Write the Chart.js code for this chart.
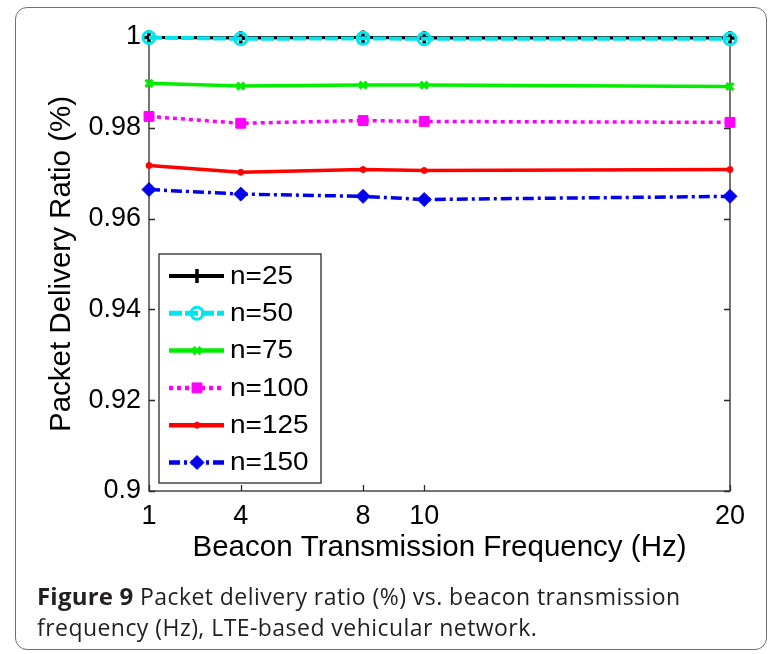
<!DOCTYPE html>
<html>
<head>
<meta charset="utf-8">
<script src="https://cdn.jsdelivr.net/npm/chart.js@4.4.1/dist/chart.umd.min.js"></script>
<style>
  html, body { margin: 0; padding: 0; background: #fff; }
  #wrap { position: relative; width: 770px; height: 654px; overflow: hidden; }
  #frame { position: absolute; left: 15px; top: 7px; width: 752px; height: 643px;
           box-sizing: border-box; border: 1.5px solid #707070; border-radius: 12px; }
  #c { position: absolute; left: 0; top: 0; }
  #caption { position: absolute; left: 37px; top: 580px; font-family: 'Open Sans', sans-serif;
             font-size: 23px; line-height: 31px; color: #231f20; letter-spacing: 0.45px; }
  #caption b { font-weight: 700; font-size: 24px; letter-spacing: 0.2px; }
</style>
</head>
<body>
<div id="wrap">
  <div id="frame"></div>
  <canvas id="c" width="770" height="654"></canvas>
  <div id="caption"><b>Figure 9</b> Packet delivery ratio (%) vs. beacon transmission<br>frequency (Hz), LTE-based vehicular network.</div>
</div>
<script>
// Beacon transmission frequency (Hz)
const frequencies = [1, 4, 8, 10, 20];
const xTicks = [1, 4, 8, 10, 20];
const yTicks = [0.9, 0.92, 0.94, 0.96, 0.98, 1];
const yTickLabels = ['0.9', '0.92', '0.94', '0.96', '0.98', '1'];

// Packet delivery ratio per number of vehicles
const seriesNames = ['n=25', 'n=50', 'n=75', 'n=100', 'n=125', 'n=150'];
const pdrN25  = [0.9999, 0.9998, 0.9999, 0.9998, 0.9998];
const pdrN50  = [0.9999, 0.9996, 0.9997, 0.9996, 0.9996];
const pdrN75  = [0.9898, 0.9892, 0.9894, 0.9894, 0.9891];
const pdrN100 = [0.9825, 0.9810, 0.9816, 0.9814, 0.9812];
const pdrN125 = [0.9717, 0.9702, 0.9708, 0.9706, 0.9708];
const pdrN150 = [0.9664, 0.9654, 0.9649, 0.9642, 0.9649];

const FONT = "'Liberation Sans', Arial, Helvetica, sans-serif";
const AXIS_COLOR = '#2a2a2a';

const styles = [
  { color: '#000000', width: 3,   dash: [],            point: 'cross',   radius: 7, pw: 3.5, fill: false },
  { color: '#00e5ee', width: 4,   dash: [13, 3],       point: 'circle',  radius: 6, pw: 3, fill: false },
  { color: '#00ee00', width: 3.5, dash: [],            point: 'crossRot',radius: 5, pw: 3, fill: false },
  { color: '#ff00ff', width: 3.5, dash: [4, 4],        point: 'rect',    radius: 7, pw: 1, fill: true  },
  { color: '#ff0000', width: 3.5, dash: [],            point: 'circle',  radius: 3, pw: 1, fill: true  },
  { color: '#0000ee', width: 3.5, dash: [11, 4, 3, 4], point: 'rectRot', radius: 7, pw: 1, fill: true  }
];
const seriesValues = [pdrN25, pdrN50, pdrN75, pdrN100, pdrN125, pdrN150];

const datasets = seriesValues.map((vals, i) => {
  const s = styles[i];
  return {
    label: seriesNames[i],
    data: vals.map((v, k) => ({ x: frequencies[k], y: v })),
    borderColor: s.color,
    backgroundColor: s.fill ? s.color : 'rgba(0,0,0,0)',
    borderWidth: s.width,
    borderDash: s.dash,
    pointStyle: s.point,
    pointRadius: s.radius,
    pointBorderWidth: s.pw,
    pointBorderColor: s.color,
    pointBackgroundColor: s.fill ? s.color : 'rgba(0,0,0,0)',
    tension: 0,
    clip: false,
    order: seriesValues.length - i   // later series painted on top
  };
});

function drawMarker(ctx, s, x, y) {
  ctx.save();
  ctx.setLineDash([]);
  ctx.strokeStyle = s.color;
  ctx.fillStyle = s.fill ? s.color : 'rgba(0,0,0,0)';
  ctx.lineWidth = s.pw;
  Chart.helpers.drawPoint(ctx, { pointStyle: s.point, radius: s.radius, borderWidth: s.pw, rotation: 0 }, x, y);
  ctx.restore();
}

// Box around the plot with inward-pointing tick marks
const axesBox = {
  id: 'axesBox',
  beforeDatasetsDraw(chart) {
    const { ctx, chartArea: a, scales: { x, y } } = chart;
    ctx.save();
    ctx.strokeStyle = AXIS_COLOR;
    ctx.lineWidth = 1.3;
    ctx.setLineDash([]);
    ctx.strokeRect(a.left, a.top, a.right - a.left, a.bottom - a.top);
    const len = 6;
    ctx.beginPath();
    yTicks.forEach(v => {
      const py = Math.round(y.getPixelForValue(v)) + 0.5;
      ctx.moveTo(a.left, py); ctx.lineTo(a.left + len, py);
      ctx.moveTo(a.right, py); ctx.lineTo(a.right - len, py);
    });
    xTicks.forEach(v => {
      const px = Math.round(x.getPixelForValue(v)) + 0.5;
      ctx.moveTo(px, a.bottom); ctx.lineTo(px, a.bottom - len);
      ctx.moveTo(px, a.top); ctx.lineTo(px, a.top + len);
    });
    ctx.stroke();
    ctx.restore();
  }
};

// Legend box in the lower-left corner of the plot, with line samples and markers
const lineLegend = {
  id: 'lineLegend',
  afterDatasetsDraw(chart) {
    const { ctx } = chart;
    const bx = 159, by = 254, bw = 162, bh = 229;
    ctx.save();
    ctx.fillStyle = '#fff';
    ctx.fillRect(bx, by, bw, bh);
    ctx.strokeStyle = AXIS_COLOR;
    ctx.lineWidth = 1.3;
    ctx.strokeRect(bx, by, bw, bh);
    seriesNames.forEach((name, i) => {
      const s = styles[i];
      const cy = 276 + i * 37.3;
      ctx.save();
      ctx.strokeStyle = s.color;
      ctx.lineWidth = s.width + 1;
      ctx.setLineDash(s.dash);
      ctx.beginPath();
      ctx.moveTo(169, cy); ctx.lineTo(224, cy);
      ctx.stroke();
      ctx.restore();
      drawMarker(ctx, s, 197, cy);
      ctx.save();
      ctx.fillStyle = '#000';
      ctx.font = '25px ' + FONT;
      ctx.textBaseline = 'middle';
      ctx.translate(230, cy + 1);
      ctx.scale(1.12, 1);
      ctx.fillText(name, 0, 0);
      ctx.restore();
    });
    ctx.restore();
  }
};

new Chart(document.getElementById('c'), {
  type: 'line',
  data: { datasets },
  options: {
    responsive: false,
    animation: false,
    events: [],
    layout: { padding: { left: 0, top: 37, right: 40, bottom: 0 } },
    plugins: { legend: { display: false }, tooltip: { enabled: false } },
    scales: {
      x: {
        type: 'linear',
        min: 1, max: 20,
        afterBuildTicks(scale) { scale.ticks = xTicks.map(v => ({ value: v })); },
        afterFit(scale) { scale.height = 163; },
        grid: { display: false, drawTicks: false },
        border: { display: false },
        ticks: {
          font: { family: FONT, size: 27 }, color: '#000', padding: 9,
          maxRotation: 0, autoSkip: false,
          callback: (v) => String(v)
        },
        title: {
          display: true, text: 'Beacon Transmission Frequency (Hz)',
          font: { family: FONT, size: 29.5 }, color: '#000',
          padding: { top: 0, bottom: 88 }
        }
      },
      y: {
        type: 'linear',
        min: 0.9, max: 1,
        afterBuildTicks(scale) { scale.ticks = yTicks.map(v => ({ value: v })); },
        afterFit(scale) { scale.width = 149; },
        grid: { display: false, drawTicks: false },
        border: { display: false },
        ticks: {
          font: { family: FONT, size: 27 }, color: '#000', padding: 8,
          autoSkip: false,
          callback: (v, idx) => yTickLabels[idx]
        },
        title: {
          display: true, text: 'Packet Delivery Ratio (%)',
          font: { family: FONT, size: 29.5 }, color: '#000',
          padding: { top: 44, bottom: 0 }
        }
      }
    }
  },
  plugins: [axesBox, lineLegend]
});
</script>
</body>
</html>
